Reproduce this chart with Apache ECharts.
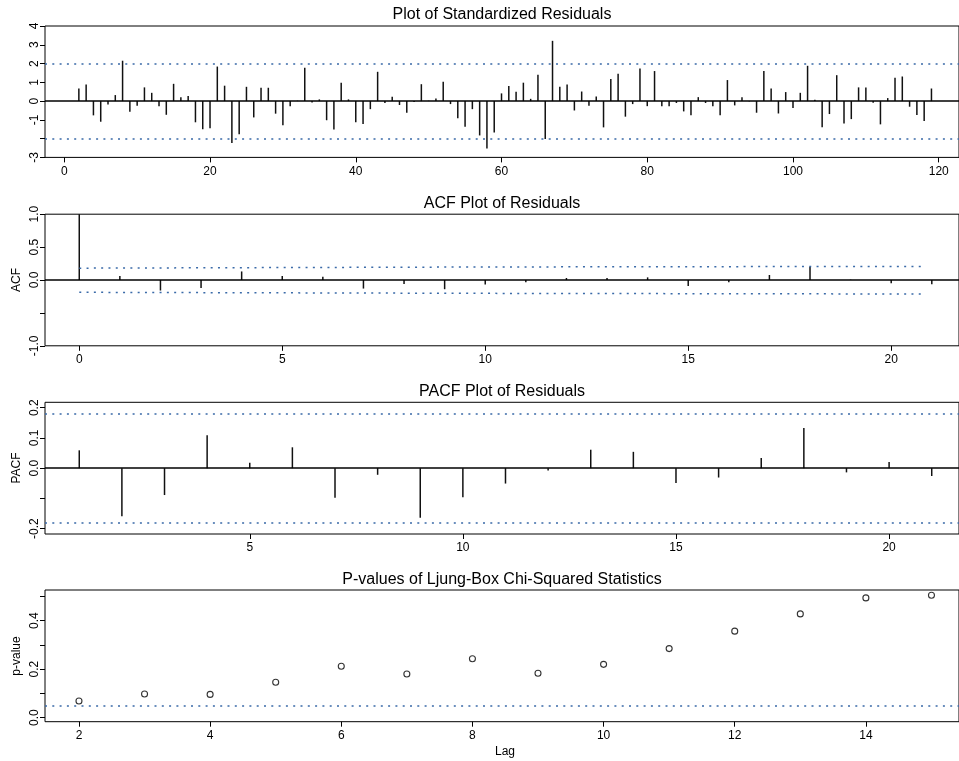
<!DOCTYPE html>
<html>
<head>
<meta charset="utf-8">
<title>Residual diagnostics</title>
<script src="https://cdn.jsdelivr.net/npm/echarts@6/dist/echarts.min.js"></script>
<style>
  html, body { margin: 0; padding: 0; background: #fff; }
  #chart { width: 959px; height: 761px; }
</style>
</head>
<body>
<div id="chart"></div>
<script>
// standardized residuals, t = 1..119
var resid = [0, 0.67, 0.89, -0.76, -1.1, -0.18, 0.32, 2.15, -0.57, -0.25,
  0.73, 0.44, -0.28, -0.73, 0.92, 0.2, 0.27, -1.13, -1.5, -1.45,
  1.84, 0.82, -2.23, -1.77, 0.76, -0.87, 0.71, 0.71, -0.67, -1.29,
  -0.27, 0.02, 1.77, -0.07, 0.09, -1.02, -1.52, 0.98, 0.09, -1.13,
  -1.22, -0.43, 1.56, -0.1, 0.23, -0.21, -0.62, -0.05, 0.9, 0.02,
  0.14, 1.03, -0.16, -0.92, -1.37, -0.43, -1.83, -2.52, -1.68, 0.41,
  0.8, 0.5, 0.98, 0.12, 1.4, -2.02, 3.21, 0.76, 0.89, -0.5,
  0.51, -0.25, 0.25, -1.4, 1.17, 1.45, -0.83, -0.16, 1.74, -0.27,
  1.6, -0.28, -0.28, -0.1, -0.55, -0.76, 0.21, -0.1, -0.28, -0.75,
  1.12, -0.23, 0.21, -0.02, -0.62, 1.6, 0.67, -0.66, 0.48, -0.37,
  0.44, 1.88, 0.07, -1.4, -0.69, 1.38, -1.19, -0.96, 0.73, 0.73,
  -0.09, -1.24, 0.16, 1.24, 1.31, -0.3, -0.74, -1.06, 0.67];
var residBand = 2;

var acfLags = [0, 1, 2, 3, 4, 5, 6, 7, 8, 9, 10, 11, 12, 13, 14, 15, 16, 17, 18, 19, 20, 21];
var acfVals = [1, 0.06, -0.16, -0.12, 0.13, 0.06, 0.05, -0.13, -0.06, -0.14, -0.07,
  -0.035, 0.03, 0.03, 0.04, -0.09, -0.035, 0.076, 0.2, 0.005, -0.05, -0.066];
// dotted bounds on the ACF panel, they open up a little with the lag
var acfBandLags = [0, 10, 20.85];
var acfUpper = [0.18, 0.198, 0.207];
var acfLower = [-0.187, -0.203, -0.213];

var pacfLags = [1, 2, 3, 4, 5, 6, 7, 8, 9, 10, 11, 12, 13, 14, 15, 16, 17, 18, 19, 20, 21];
var pacfVals = [0.059, -0.159, -0.089, 0.109, 0.018, 0.069, -0.098, -0.022, -0.164, -0.096,
  -0.051, -0.008, 0.061, 0.054, -0.049, -0.031, 0.034, 0.133, -0.014, 0.02, -0.026];
var pacfBand = 0.1833;

var lbLags = [2, 3, 4, 5, 6, 7, 8, 9, 10, 11, 12, 13, 14, 15];
var lbPvals = [0.069, 0.098, 0.096, 0.146, 0.212, 0.18, 0.243, 0.183, 0.22, 0.285,
  0.357, 0.428, 0.494, 0.505];
var lbLevel = 0.05;

// tick positions
var residXTicks = [0, 20, 40, 60, 80, 100, 120];
var residYTicks = [-3, -2, -1, 0, 1, 2, 3, 4];
var residYLabels = [-3, -1, 0, 1, 2, 3, 4];
var acfXTicks = [0, 5, 10, 15, 20];
var acfYTicks = [-1, -0.5, 0, 0.5, 1];
var acfYLabels = [-1, 0, 0.5, 1];
var pacfXTicks = [5, 10, 15, 20];
var pacfYTicks = [-0.2, -0.1, 0, 0.1, 0.2];
var pacfYLabels = [-0.2, 0, 0.1, 0.2];
var lbXTicks = [2, 4, 6, 8, 10, 12, 14];
var lbYTicks = [0, 0.1, 0.2, 0.3, 0.4, 0.5];
var lbYLabels = [0, 0.2, 0.4];

var FONT = 'Liberation Sans, Arial, sans-serif';
var blue = '#3a6aa8';
var dotted = [2, 5.3];

var chart = echarts.init(document.getElementById('chart'), null, { renderer: 'canvas' });

function xAx(grid, min, max, ticks) {
    return {
        type: 'value', gridIndex: grid, min: min, max: max,
        axisLine: { show: false, onZero: false },
        splitLine: { show: false },
        axisTick: { show: true, length: 5, customValues: ticks, lineStyle: { color: '#000' } },
        axisLabel: { customValues: ticks, margin: 8, color: '#000', fontSize: 12, fontFamily: FONT }
    };
}

function yAx(grid, min, max, ticks, labels, digits) {
    return {
        type: 'value', gridIndex: grid, min: min, max: max,
        axisLine: { show: false, onZero: false },
        splitLine: { show: false },
        axisTick: { show: true, length: 5, customValues: ticks, lineStyle: { color: '#000' } },
        axisLabel: {
            customValues: labels, rotate: 90, margin: 4,
            color: '#000', fontSize: 12, fontFamily: FONT,
            formatter: function (v) { return v.toFixed(digits); }
        }
    };
}

function hLine(y, solid) {
    return {
        yAxis: y,
        lineStyle: solid ? { color: '#000', width: 1.5, type: 'solid' } : { color: blue, width: 1.5, type: dotted }
    };
}

function marks(lines) {
    return { silent: true, symbol: 'none', label: { show: false }, animation: false, data: lines };
}

function sticks(idx, data, lines) {
    return {
        type: 'bar', xAxisIndex: idx, yAxisIndex: idx,
        data: data, barWidth: 1.5,
        itemStyle: { color: '#111' },
        markLine: marks(lines)
    };
}

function text(x, y, s, size, rot) {
    return {
        type: 'text', x: x, y: y, rotation: rot || 0, silent: true,
        style: { text: s, font: size + 'px ' + FONT, fill: '#000',
                 align: 'center', verticalAlign: 'middle', textAlign: 'center', textVerticalAlign: 'middle' }
    };
}

var gridBox = { show: true, borderColor: '#000', borderWidth: 1, left: 45, right: -1 };

var option = {
    animation: false,
    backgroundColor: '#fff',
    grid: [
        Object.assign({ top: 26, height: 131.4 }, gridBox),
        Object.assign({ top: 214.2, height: 131.6 }, gridBox),
        Object.assign({ top: 402.3, height: 131.7 }, gridBox),
        Object.assign({ top: 590, height: 131.7 }, gridBox)
    ],
    xAxis: [
        xAx(0, -2.646, 122.78, residXTicks),
        xAx(1, -0.844, 21.67, acfXTicks),
        xAx(2, 0.196, 21.64, pacfXTicks),
        xAx(3, 1.482, 15.42, lbXTicks)
    ],
    yAxis: [
        yAx(0, -3, 4, residYTicks, residYLabels, 0),
        yAx(1, -1, 1, acfYTicks, acfYLabels, 1),
        yAx(2, -0.218, 0.218, pacfYTicks, pacfYLabels, 1),
        yAx(3, -0.0165, 0.5266, lbYTicks, lbYLabels, 1)
    ],
    graphic: [
        text(502, 15, 'Plot of Standardized Residuals', 16),
        text(502, 203.5, 'ACF Plot of Residuals', 16),
        text(502, 391.5, 'PACF Plot of Residuals', 16),
        text(502, 580, 'P-values of Ljung-Box Chi-Squared Statistics', 16),
        text(17, 280, 'ACF', 12, Math.PI / 2),
        text(17, 468, 'PACF', 12, Math.PI / 2),
        text(17, 656, 'p-value', 12, Math.PI / 2),
        text(505, 752, 'Lag', 12)
    ],
    series: [
        sticks(0, resid.map(function (v, i) { return [i + 1, v]; }),
            [hLine(0, true), hLine(residBand), hLine(-residBand)]),
        sticks(1, acfLags.map(function (l, i) { return [l, acfVals[i]]; }),
            [hLine(0, true)]),
        {
            type: 'line', xAxisIndex: 1, yAxisIndex: 1, symbol: 'none', silent: true,
            data: acfBandLags.map(function (l, i) { return [l, acfUpper[i]]; }),
            lineStyle: { color: blue, width: 1.5, type: dotted }
        },
        {
            type: 'line', xAxisIndex: 1, yAxisIndex: 1, symbol: 'none', silent: true,
            data: acfBandLags.map(function (l, i) { return [l, acfLower[i]]; }),
            lineStyle: { color: blue, width: 1.5, type: dotted }
        },
        sticks(2, pacfLags.map(function (l, i) { return [l, pacfVals[i]]; }),
            [hLine(0, true), hLine(pacfBand), hLine(-pacfBand)]),
        {
            type: 'scatter', xAxisIndex: 3, yAxisIndex: 3,
            data: lbLags.map(function (l, i) { return [l, lbPvals[i]]; }),
            symbol: 'circle', symbolSize: 6,
            itemStyle: { color: '#fff', borderColor: '#000', borderWidth: 1.1 },
            markLine: marks([hLine(lbLevel)])
        }
    ]
};

chart.setOption(option);
</script>
</body>
</html>
